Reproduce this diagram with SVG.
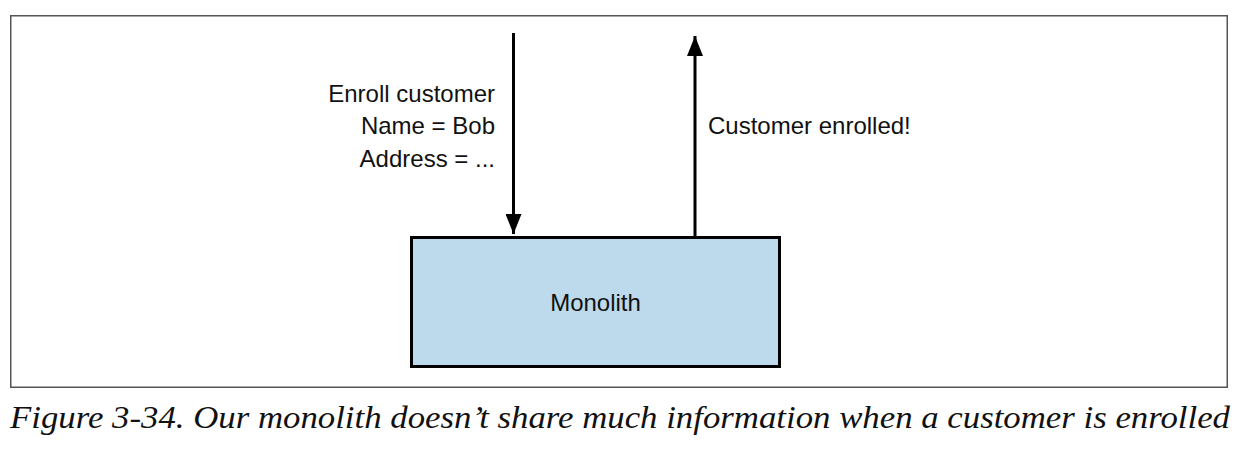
<svg xmlns="http://www.w3.org/2000/svg" width="1242" height="450" viewBox="0 0 1242 450">
  <defs>
    <style>
      .frame { fill: #ffffff; stroke: #555555; stroke-width: 1.5; }
      .node { fill: #bcdaeb; stroke: #000000; stroke-width: 3; }
      .label { font-family: "Liberation Sans", Arial, sans-serif; font-size: 24px; fill: #111111; }
      .conn { stroke: #000000; stroke-width: 3; fill: none; }
      .caption { font-family: "Liberation Serif", "Times New Roman", serif; font-style: italic; font-size: 31px; fill: #111111; }
    </style>
    <marker id="arrow" viewBox="0 0 20 16" refX="20" refY="8" markerWidth="20" markerHeight="16" markerUnits="userSpaceOnUse" orient="auto">
      <path d="M0,0 L20,8 L0,16 Z" fill="#000000"/>
    </marker>
  </defs>
  <rect x="0" y="0" width="1242" height="450" fill="#ffffff"/>
  <rect class="frame" x="10.75" y="15.75" width="1216.5" height="371.5"/>

  <g id="monolith">
    <rect class="node" x="411.5" y="237.5" width="368" height="129"/>
    <text class="label" x="595.5" y="311" text-anchor="middle">Monolith</text>
  </g>

  <g id="connectors">
    <line class="conn" x1="513.5" y1="33" x2="513.5" y2="234" marker-end="url(#arrow)"/>
    <line class="conn" x1="695" y1="237" x2="695" y2="36" marker-end="url(#arrow)"/>
  </g>

  <g id="request-label">
    <text class="label" x="495" y="101.5" text-anchor="end">Enroll customer</text>
    <text class="label" x="495" y="134" text-anchor="end">Name = Bob</text>
    <text class="label" x="495" y="166.5" text-anchor="end">Address = ...</text>
  </g>

  <g id="response-label">
    <text class="label" x="708" y="134">Customer enrolled!</text>
  </g>

  <text class="caption" x="10" y="428" textLength="1220" lengthAdjust="spacingAndGlyphs">Figure 3-34. Our monolith doesn’t share much information when a customer is enrolled</text>
</svg>
